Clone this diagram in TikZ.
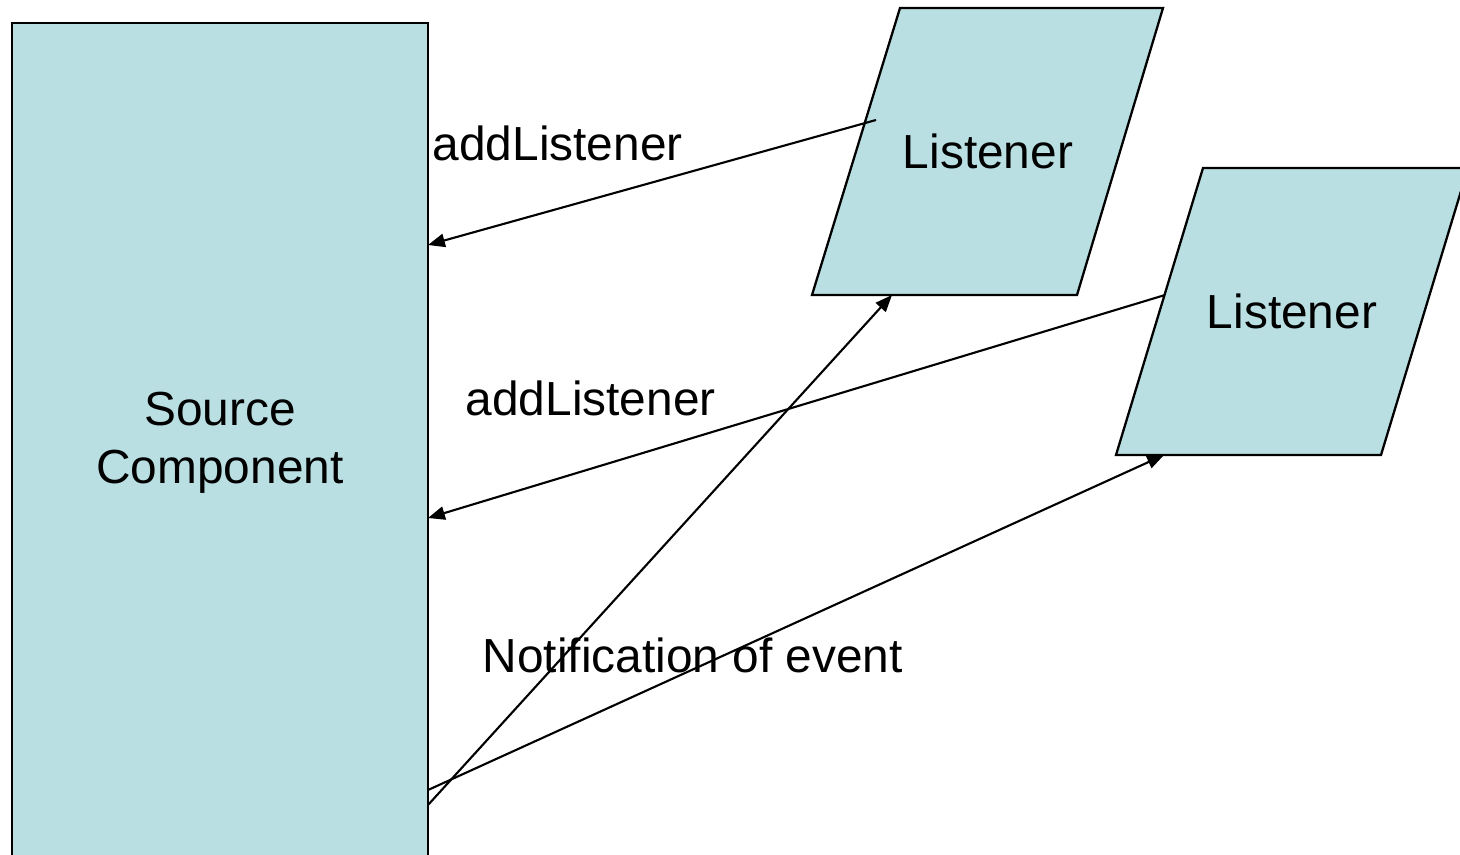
\documentclass[tikz,border=0pt]{standalone}
\usepackage{fontspec}
\setmainfont{Liberation Sans}
\usetikzlibrary{arrows.meta}
\definecolor{boxfill}{HTML}{B9DFE3}
\begin{document}
\begin{tikzpicture}[
    x=0.01cm, y=-0.01cm,
    every node/.style={font=\fontsize{13.6pt}{16.4pt}\selectfont, inner sep=0pt},
    shape line/.style={draw, fill=boxfill, line width=0.65pt},
    call arrow/.style={draw, line width=0.6pt, -{Triangle[length=4.8pt,width=3.8pt]}},
    ]
\useasboundingbox (0,0) rectangle (1460,854);
\clip (0,0) rectangle (1460,854);
\fill[white] (0,0) rectangle (1460,854);
% source component
\draw[shape line] (12,23) rectangle (428,880);
\node[align=center, anchor=base] (source) at (220,483) {Source\\Component};
% listeners
\draw[shape line] (900,8) -- (1163,8) -- (1077,295) -- (812,295) -- cycle;
\draw[shape line] (1203,168) -- (1468,168) -- (1381,455) -- (1116,455) -- cycle;
\node[anchor=base] (listenerA) at (988,168) {Listener};
\node[anchor=base] (listenerB) at (1292,328) {Listener};
% arrow ends
\coordinate (regA) at (876,120);
\coordinate (regB) at (1165,295);
\coordinate (srcA) at (428,245);
\coordinate (srcB) at (428,518);
\coordinate (srcC) at (428,805);
\coordinate (srcD) at (428,790);
\coordinate (notA) at (892,295);
\coordinate (notB) at (1164,455);
\draw[call arrow] (regA) -- (srcA);
\draw[call arrow] (regB) -- (srcB);
\draw[call arrow] (srcC) -- (notA);
\draw[call arrow] (srcD) -- (notB);
% labels
\node[anchor=base west] (addA) at (432,160) {addListener};
\node[anchor=base west] (addB) at (465,415) {addListener};
\node[anchor=base west] (notify) at (482,672) {Notification of event};
\end{tikzpicture}
\end{document}
